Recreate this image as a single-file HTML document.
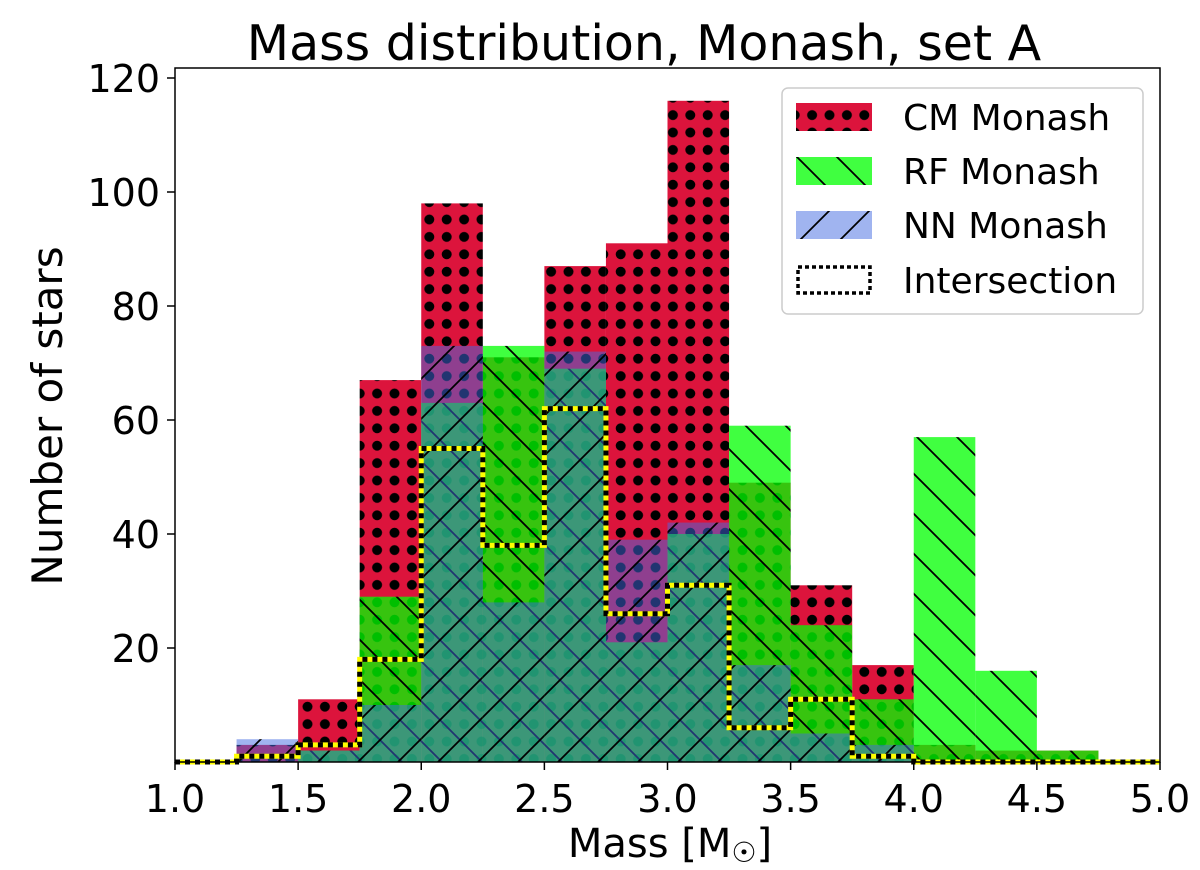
<!DOCTYPE html>
<html><head><meta charset="utf-8"><style>
body{margin:0;background:#fff;}
svg{display:block;font-family:"DejaVu Sans","Liberation Sans",sans-serif;}
</style></head><body>
<svg id="chart" width="1200" height="870">
<defs>
<pattern id="dots" patternUnits="userSpaceOnUse" width="17.4" height="17.4" x="3" y="2">
<rect width="17.4" height="17.4" fill="#dc143c"/><circle cx="8.7" cy="8.7" r="5" fill="#000"/></pattern>
<pattern id="back" patternUnits="userSpaceOnUse" width="40" height="40">
<rect width="40" height="40" fill="rgba(0,255,0,0.75)"/><path d="M-10,-10 L50,50 M-50,-10 L10,50 M30,-10 L90,50" stroke="#000" stroke-width="1.8"/></pattern>
<pattern id="fwd" patternUnits="userSpaceOnUse" width="40" height="40">
<rect width="40" height="40" fill="rgba(65,105,225,0.5)"/><path d="M-10,50 L50,-10 M-50,50 L10,-10 M30,50 L90,-10" stroke="#000" stroke-width="1.8"/></pattern>
</defs>
<text x="644" y="60" font-size="49" text-anchor="middle">Mass distribution, Monash, set A</text>
<g id="bars"></g>
<rect x="175" y="68" width="985" height="694" fill="none" stroke="#000" stroke-width="1.5"/>
<g id="axes"></g>
<text x="670" y="857" font-size="40" text-anchor="middle">Mass [M<tspan font-size="28" dy="5">☉</tspan><tspan dy="-5">]</tspan></text>
<text transform="translate(62,416) rotate(-90)" font-size="42" text-anchor="middle">Number of stars</text>
<g>
<rect x="782" y="88" width="361" height="226" rx="6" fill="#fff" stroke="#ccc" stroke-width="1.5"/>
<g><rect x="796" y="103" width="76" height="28" fill="url(#dots)"/><text x="903" y="130" font-size="36">CM Monash</text></g>
<g><rect x="796" y="157" width="76" height="28" fill="url(#back)"/><text x="903" y="184" font-size="36">RF Monash</text></g>
<g><rect x="796" y="211" width="76" height="28" fill="url(#fwd)"/><text x="903" y="238" font-size="36">NN Monash</text></g>
<g><rect x="798" y="267" width="72" height="26" fill="none" stroke="#000" stroke-width="3.5" stroke-dasharray="4,3"/><text x="903" y="293" font-size="36">Intersection</text></g>
</g>
</svg>
<script>
const binEdges=[1.0,1.25,1.5,1.75,2.0,2.25,2.5,2.75,3.0,3.25,3.5,3.75,4.0,4.25,4.5,4.75,5.0];
const cmCounts=[0,3,11,67,98,71,87,91,116,49,31,17,3,2,2,0];
const rfCounts=[0,0,2,29,63,73,69,21,40,59,24,11,57,16,2,0];
const nnCounts=[0,4,2,10,73,28,72,39,42,17,5,3,0,0,0,0];
const interCounts=[0,1,3,18,55,38,62,26,31,6,11,1,0,0,0,0];
const xTicks=[1.0,1.5,2.0,2.5,3.0,3.5,4.0,4.5,5.0];
const yTicks=[20,40,60,80,100,120];
const NS="http://www.w3.org/2000/svg";
const X=v=>175+(v-1)/4*985;
const Y=v=>762-v*5.7;
const bars=document.getElementById('bars'),axes=document.getElementById('axes');
function mk(t,a,p){const e=document.createElementNS(NS,t);for(const k in a)e.setAttribute(k,a[k]);p.appendChild(e);return e;}
function series(arr,fill,name){
 arr.forEach((v,i)=>{ if(v<=0)return;
  const r=mk('rect',{x:X(binEdges[i]),y:Y(v),width:X(binEdges[i+1])-X(binEdges[i]),height:Y(0)-Y(v),fill:fill},bars);
  
  
 });
}
series(cmCounts,'url(#dots)','cm');
series(rfCounts,'url(#back)','rf');
series(nnCounts,'url(#fwd)','nn');
let d='M'+X(binEdges[0])+','+Y(0);
interCounts.forEach((v,i)=>{d+=' L'+X(binEdges[i])+','+Y(v)+' L'+X(binEdges[i+1])+','+Y(v);});
d+=' L'+X(binEdges[binEdges.length-1])+','+Y(0);
const p1=mk('path',{d:d,fill:'none',stroke:'#ffff00','stroke-width':5},bars);


const p2=mk('path',{d:d,fill:'none',stroke:'#000','stroke-width':5,'stroke-dasharray':'5,5'},bars);


xTicks.forEach(t=>{
 const l=mk('line',{x1:X(t),x2:X(t),y1:762,y2:770,stroke:'#000','stroke-width':1.5},axes);
 
 
 const tx=mk('text',{x:X(t),y:812,'font-size':38,'text-anchor':'middle'},axes);
 tx.textContent=t.toFixed(1);
 
 
});
yTicks.forEach(t=>{
 const l=mk('line',{x1:167,x2:175,y1:Y(t),y2:Y(t),stroke:'#000','stroke-width':1.5},axes);
 
 
 const tx=mk('text',{x:160,y:Y(t)+14,'font-size':38,'text-anchor':'end'},axes);
 tx.textContent=t;
 
 
});
</script>
</body></html>
